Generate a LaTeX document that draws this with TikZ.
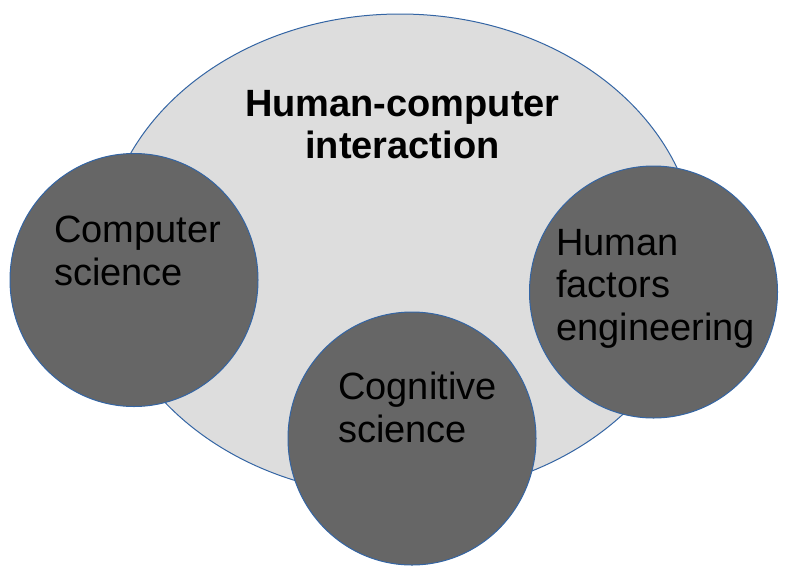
\documentclass[tikz,border=0pt]{standalone}
\usepackage{fontspec}
\setmainfont{Liberation Sans}
\definecolor{ringblue}{HTML}{3465A4}
\definecolor{ellfill}{HTML}{DDDDDD}
\definecolor{circfill}{HTML}{666666}
\begin{document}
\begin{tikzpicture}[x=1pt,y=-1pt,
  lbl/.style={anchor=base west,align=left,inner sep=0pt,font=\fontsize{38}{42.5}\selectfont,text=black},
  ttl/.style={anchor=base,align=center,inner sep=0pt,font=\fontsize{38}{41.6}\selectfont\bfseries,text=black}]
\useasboundingbox (0,0) rectangle (787,571);
% main ellipse
\draw[draw=ringblue,line width=1pt,fill=ellfill] (400,255) ellipse [x radius=297, y radius=241];
\coordinate (hci) at (400,255);
% circles
\draw[draw=ringblue,line width=1pt,fill=circfill] (134,280) ellipse [x radius=124, y radius=126.5];
\coordinate (cs) at (134,280);
\draw[draw=ringblue,line width=1pt,fill=circfill] (412,438.5) ellipse [x radius=124, y radius=126.5];
\coordinate (cog) at (412,438.5);
\draw[draw=ringblue,line width=1pt,fill=circfill] (653.5,292) ellipse [x radius=124, y radius=126];
\coordinate (hf) at (653.5,292);
% labels (anchored at the baseline of the last line)
\node[ttl] (hcit) at (402.5,158.3) {Human-computer\\interaction};
\node[lbl] (cst) at (54,285) {Computer\\science};
\node[lbl] (hft) at (556,340) {Human\\factors\\engineering};
\node[lbl] (cogt) at (338,442) {Cognitive\\science};
\end{tikzpicture}
\end{document}
